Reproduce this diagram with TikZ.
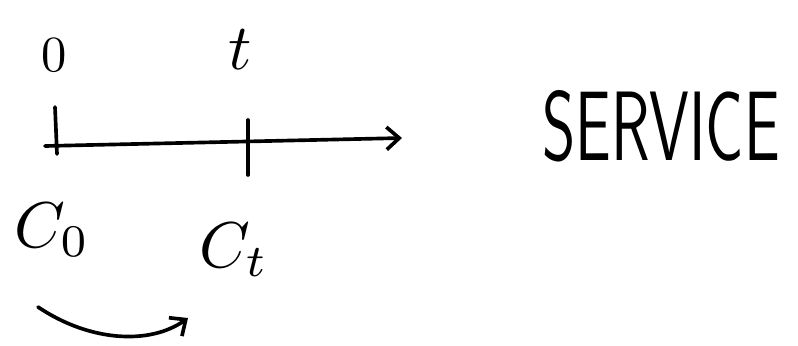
\documentclass[tikz,border=0pt]{standalone}
\usetikzlibrary{arrows.meta}
\newcommand{\bigmath}[2][4.6]{\scalebox{#1}{$#2$}}
\begin{document}
\begin{tikzpicture}[x=0.025cm, y=-0.025cm,
  sketch/.style={line width=2.6pt, line cap=round, line join=round},
  arrow/.style={sketch, -{Straight Barb[length=9pt, width=16pt, line width=2.6pt]}},
  ticklabel/.style={inner sep=0pt},
  costlabel/.style={inner sep=0pt},
  title/.style={font=\fontsize{52}{56}\selectfont, inner sep=0pt}
]
\useasboundingbox (0,0) rectangle (798,345);

% time axis
\coordinate (start) at (45,146);
\coordinate (end) at (402,138);
\draw[arrow] (start) -- (end);

% ticks
\coordinate (tick0top) at (55,107);
\coordinate (tick0bot) at (57,154);
\coordinate (ticktop) at (248,120);
\coordinate (tickbot) at (248,175);
\draw[sketch] (tick0top) -- (tick0bot);
\draw[sketch] (ticktop) -- (tickbot);

\node[ticklabel] (zero) at (54,55) {\bigmath[3.6]{0}};
\node[ticklabel] (tlab) at (240,50) {\bigmath{t}};

\node[costlabel] (czero) at (52,230) {\bigmath{C_0}};
\node[costlabel] (ct) at (234,250) {\bigmath{C_t}};

\node[title] (service) at (661,126) {\scalebox{0.87}[1.35]{\textsf{SERVICE}}};

% shift of the cost
\coordinate (from) at (38,307);
\coordinate (to) at (188,318);
\draw[arrow] (from) .. controls (90,342) and (150,345) .. (to);
\end{tikzpicture}
\end{document}
